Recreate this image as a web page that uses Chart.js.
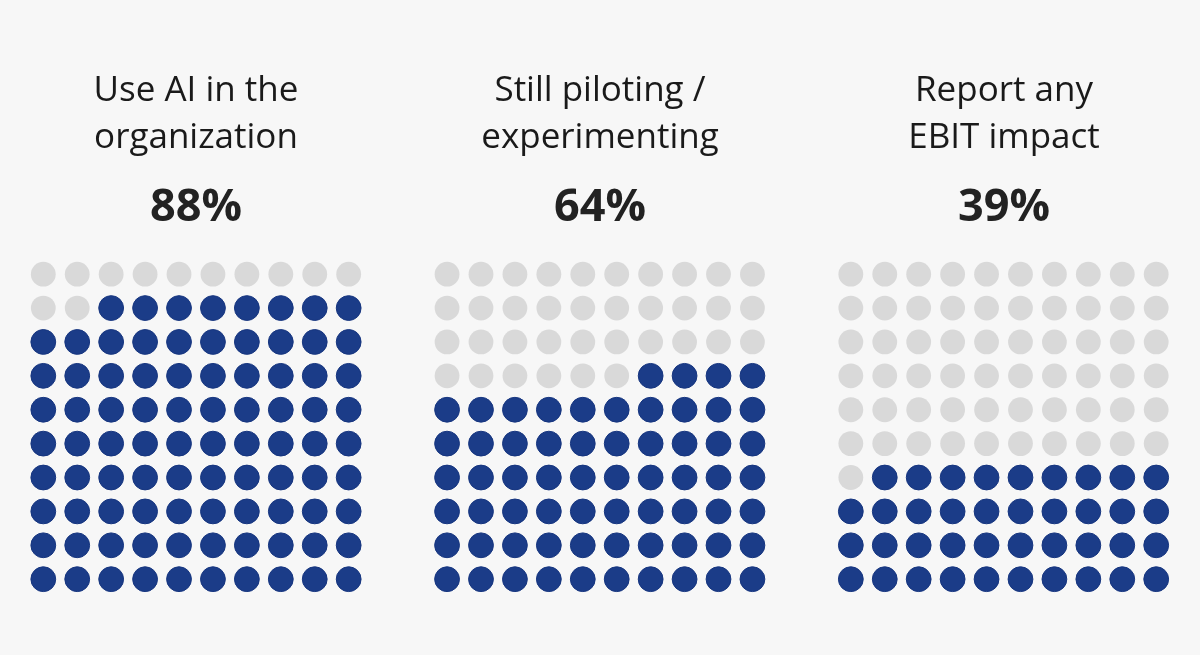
<!DOCTYPE html>
<html>
<head>
<meta charset="utf-8">
<script src="https://cdn.jsdelivr.net/npm/chart.js@4"></script>
<style>
  html, body { margin: 0; padding: 0; background: #f7f7f7; }
  #wrap { position: relative; width: 1200px; height: 655px; }
  #c { position: absolute; left: 0; top: 0; }
  .lbl { position: absolute; width: 380px; text-align: center; color: #1a1a1a; font-family: "Open Sans", sans-serif; }
  .ttl { font-size: 35px; line-height: 47px; top: 64px; }
  .pct { font-size: 45px; font-weight: 700; top: 174px; line-height: 60px; color: #222; }
</style>
</head>
<body>
<div id="wrap">
  <canvas id="c" width="1200" height="655"></canvas>
</div>
<script>
// ---- data ----
const categories = ["Use AI in the organization", "Still piloting / experimenting", "Report any EBIT impact"];
const titleLines = [["Use AI in the", "organization"], ["Still piloting /", "experimenting"], ["Report any", "EBIT impact"]];
const percentValues = [88, 64, 39];
const percentLabels = ["88%", "64%", "39%"];

// ---- waffle cells built from the values ----
const GRID = 10;
const GROUP_GAP = 11.9; // grid offset in column units
const filled = [], empty = [];
percentValues.forEach((v, g) => {
  for (let i = 0; i < GRID * GRID; i++) {
    const row = Math.floor(i / GRID);          // 0 = bottom row
    const col = GRID - 1 - (i % GRID);         // fill from the right
    const pt = { x: g * GROUP_GAP + col, y: row };
    (i < v ? filled : empty).push(pt);
  }
});

const wrap = document.getElementById('wrap');
const centersX = [196, 600, 1004];
titleLines.forEach((lines, g) => {
  const t = document.createElement('div');
  t.className = 'lbl ttl';
  t.style.left = (centersX[g] - 190) + 'px';
  t.innerHTML = lines.join('<br>');
  wrap.appendChild(t);
  const p = document.createElement('div');
  p.className = 'lbl pct';
  p.style.left = (centersX[g] - 190) + 'px';
  p.textContent = percentLabels[g];
  wrap.appendChild(p);
});

new Chart(document.getElementById('c'), {
  type: 'scatter',
  data: {
    datasets: [
      { label: 'Yes', data: filled, backgroundColor: '#1b3c88', borderColor: '#16357f', borderWidth: 1, pointRadius: 12.4, pointHoverRadius: 12.4, clip: false },
      { label: 'No', data: empty, backgroundColor: '#d9d9d9', borderColor: '#d9d9d9', borderWidth: 0, pointRadius: 12.4, pointHoverRadius: 12.4, clip: false }
    ]
  },
  options: {
    responsive: false,
    animation: false,
    layout: { padding: 0, autoPadding: false },
    plugins: { legend: { display: false }, tooltip: { enabled: false } },
    scales: {
      x: { type: 'linear', display: false, min: -1.276, max: -1.276 + 1200 / 33.93 },
      y: { type: 'linear', display: false, min: 17.09 - 655 / 33.89, max: 17.09 }
    }
  }
});
</script>
</body>
</html>
